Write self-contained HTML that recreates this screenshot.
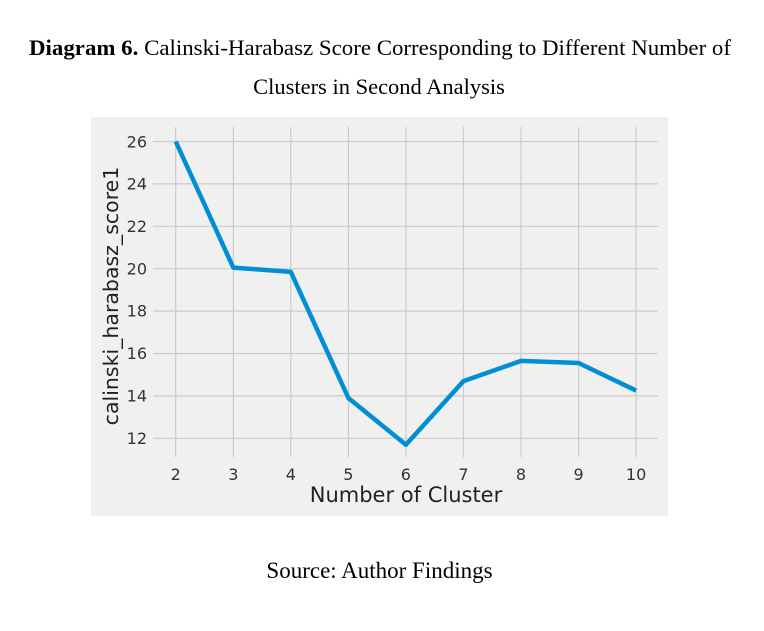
<!DOCTYPE html>
<html><head><meta charset="utf-8"><style>
html,body{margin:0;padding:0;background:#fff;}
</style></head><body>
<svg width="764" height="626" viewBox="0 0 764 626" xmlns="http://www.w3.org/2000/svg">
<rect width="764" height="626" fill="#fff"/>
<text x="29" y="55" font-family="Liberation Serif, serif" font-size="22" fill="#000" textLength="702" lengthAdjust="spacingAndGlyphs"><tspan font-weight="bold">Diagram 6.</tspan> Calinski-Harabasz Score Corresponding to Different Number of</text>
<text x="379" y="94" text-anchor="middle" font-family="Liberation Serif, serif" font-size="22.5" fill="#000">Clusters in Second Analysis</text>
<rect x="91" y="117" width="577" height="399" fill="#f0f0f0"/>
<g stroke="#cbcbcb" stroke-width="1.2">
<line x1="175.7" y1="127" x2="175.7" y2="457"/>
<line x1="233.3" y1="127" x2="233.3" y2="457"/>
<line x1="290.8" y1="127" x2="290.8" y2="457"/>
<line x1="348.4" y1="127" x2="348.4" y2="457"/>
<line x1="405.9" y1="127" x2="405.9" y2="457"/>
<line x1="463.5" y1="127" x2="463.5" y2="457"/>
<line x1="521.0" y1="127" x2="521.0" y2="457"/>
<line x1="578.6" y1="127" x2="578.6" y2="457"/>
<line x1="636.1" y1="127" x2="636.1" y2="457"/>
<line x1="153" y1="438.3" x2="658" y2="438.3"/>
<line x1="153" y1="395.9" x2="658" y2="395.9"/>
<line x1="153" y1="353.5" x2="658" y2="353.5"/>
<line x1="153" y1="311.1" x2="658" y2="311.1"/>
<line x1="153" y1="268.7" x2="658" y2="268.7"/>
<line x1="153" y1="226.3" x2="658" y2="226.3"/>
<line x1="153" y1="183.9" x2="658" y2="183.9"/>
<line x1="153" y1="141.5" x2="658" y2="141.5"/>
</g>
<polyline fill="none" stroke="#008fd5" stroke-width="4.5" stroke-linejoin="round" points="175.7,141.5 233.3,267.6 290.8,271.9 348.4,398.0 405.9,444.7 463.5,381.1 521.0,360.9 578.6,363.0 636.1,390.6"/>
<g font-family="DejaVu Sans, sans-serif" font-size="16" fill="#333" text-anchor="end">
<text x="147" y="444">12</text>
<text x="147" y="401.5">14</text>
<text x="147" y="359">16</text>
<text x="147" y="316.5">18</text>
<text x="147" y="274.5">20</text>
<text x="147" y="232">22</text>
<text x="147" y="189.5">24</text>
<text x="147" y="147.5">26</text>
</g>
<g font-family="DejaVu Sans, sans-serif" font-size="16" fill="#333" text-anchor="middle">
<text x="175.7" y="480">2</text>
<text x="233.3" y="480">3</text>
<text x="290.8" y="480">4</text>
<text x="348.4" y="480">5</text>
<text x="405.9" y="480">6</text>
<text x="463.5" y="480">7</text>
<text x="521.0" y="480">8</text>
<text x="578.6" y="480">9</text>
<text x="636.1" y="480">10</text>
</g>
<text x="406" y="502" text-anchor="middle" font-family="DejaVu Sans, sans-serif" font-size="21" fill="#222">Number of Cluster</text>
<text transform="translate(118,296) rotate(-90)" text-anchor="middle" font-family="DejaVu Sans, sans-serif" font-size="20.5" fill="#222">calinski_harabasz_score1</text>
<text x="379.5" y="578" text-anchor="middle" font-family="Liberation Serif, serif" font-size="23" fill="#000">Source: Author Findings</text>
</svg>
</body></html>
